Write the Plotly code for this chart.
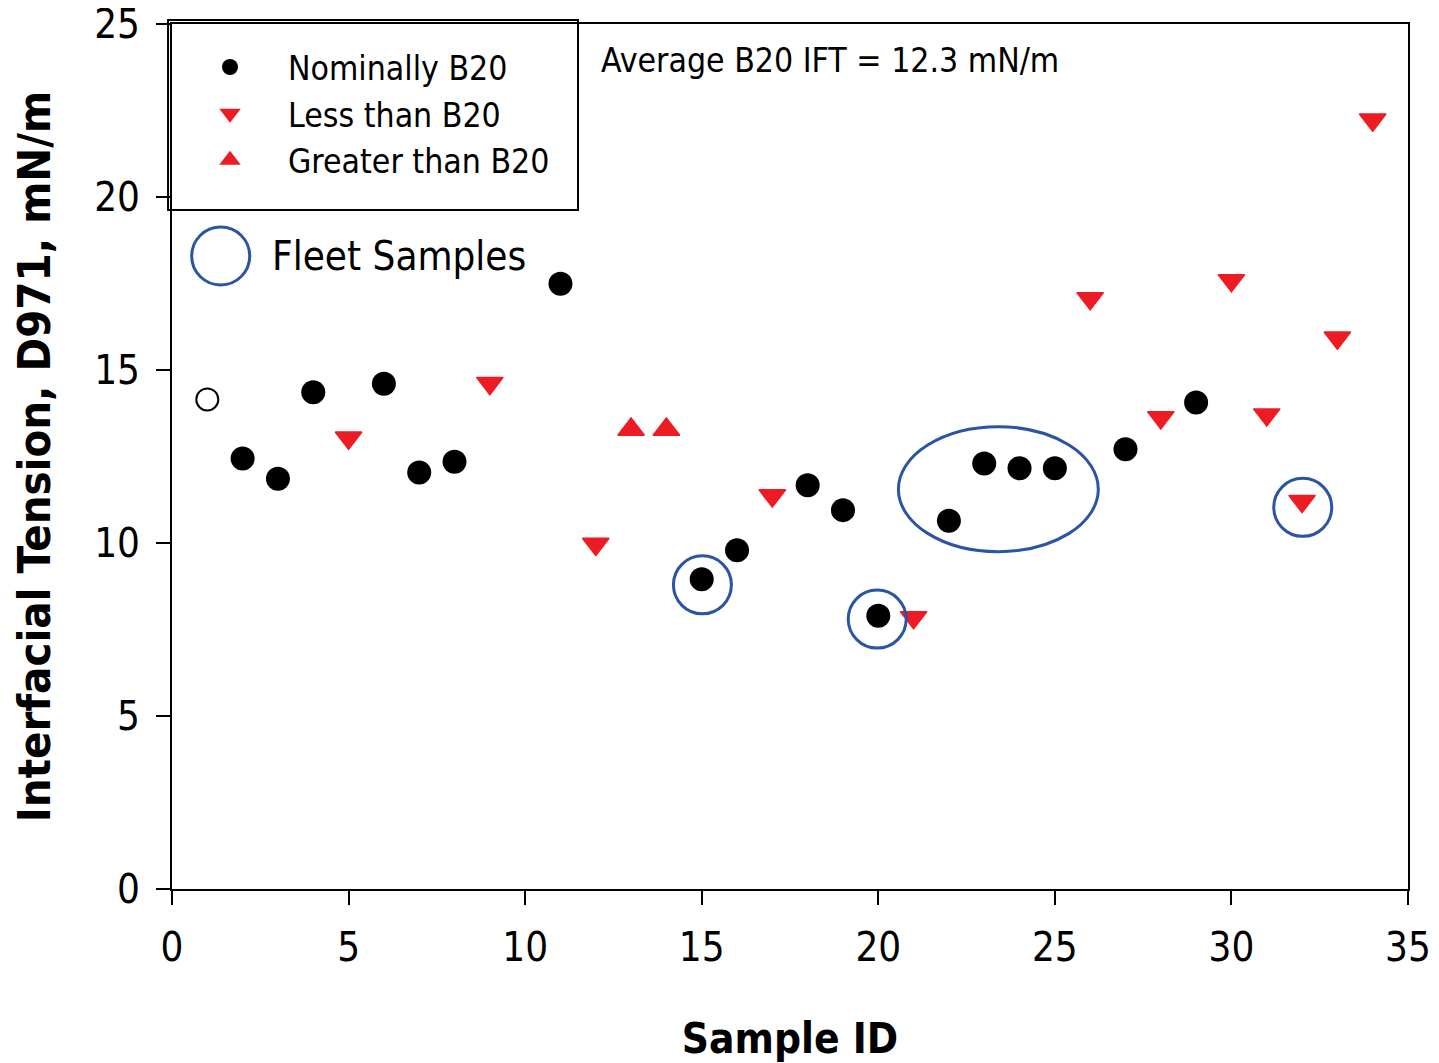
import plotly.graph_objects as go

# ---- data ----
nominal_x = [2, 3, 4, 6, 7, 8, 11, 15, 16, 18, 19, 20, 22, 23, 24, 25, 27, 29]
nominal_y = [12.44, 11.86, 14.36, 14.60, 12.04, 12.35, 17.49, 8.95, 9.79, 11.67,
             10.95, 7.90, 10.64, 12.30, 12.16, 12.16, 12.71, 14.06]

less_x = [5, 9, 12, 17, 21, 26, 28, 30, 31, 32, 33, 34]
less_y = [13.04, 14.62, 9.97, 11.37, 7.85, 17.07, 13.63, 17.59, 13.71, 11.21, 15.93, 22.23]

greater_x = [13, 14]
greater_y = [13.28, 13.28]

other_x = [1]
other_y = [14.15]

fleet_x = [15.02, 19.97, 32.02]
fleet_y = [8.79, 7.80, 11.03]

fleet_group_x = [20.57, 26.23]   # ellipse extent around samples 22-25
fleet_group_y = [9.75, 13.36]

x_ticks = [0, 5, 10, 15, 20, 25, 30, 35]
y_ticks = [0, 5, 10, 15, 20, 25]

FONT = "DejaVu Sans Condensed, Liberation Sans Narrow, Lato, sans-serif"
RED = "#ED1C24"
BLUE = "#2B54A3"

fig = go.Figure()

fig.add_trace(go.Scatter(x=nominal_x, y=nominal_y, mode="markers", name="Nominally B20",
                         marker=dict(symbol="circle", size=24, color="black")))
fig.add_trace(go.Scatter(x=less_x, y=less_y, mode="markers", name="Less than B20",
                         marker=dict(symbol="triangle-down", size=23, color=RED,
                                     line=dict(color=RED, width=1.5))))
fig.add_trace(go.Scatter(x=greater_x, y=greater_y, mode="markers", name="Greater than B20",
                         marker=dict(symbol="triangle-up", size=23, color=RED,
                                     line=dict(color=RED, width=1.5))))
fig.add_trace(go.Scatter(x=other_x, y=other_y, mode="markers", showlegend=False,
                         marker=dict(symbol="circle-open", size=22, color="black",
                                     line=dict(color="black", width=2))))
fig.add_trace(go.Scatter(x=fleet_x, y=fleet_y, mode="markers", showlegend=False,
                         marker=dict(symbol="circle-open", size=58, color=BLUE,
                                     line=dict(color=BLUE, width=3))))

shapes = [
    dict(type="circle", xref="x", yref="y",
         x0=fleet_group_x[0], x1=fleet_group_x[1], y0=fleet_group_y[0], y1=fleet_group_y[1],
         line=dict(color=BLUE, width=3)),
    # legend box
    dict(type="rect", xref="paper", yref="paper", x0=-0.0032, x1=0.3285, y0=0.785, y1=1.0046,
         line=dict(color="black", width=2), fillcolor="white", layer="below"),
    # fleet samples key circle
    dict(type="circle", xref="paper", yref="paper", x0=0.0159, x1=0.0629, y0=0.6983, y1=0.7653,
         line=dict(color=BLUE, width=3)),
]

# page body adds an 8px offset, so the figure is 8px smaller on each leading side
fig.update_layout(
    width=1431, height=1055,
    margin=dict(l=164, r=31, t=16, b=174, autoexpand=False),
    paper_bgcolor="white", plot_bgcolor="white",
    font=dict(family=FONT, size=34, color="black"),
    shapes=shapes,
    showlegend=True,
    legend=dict(x=0.0, y=0.983, xanchor="left", yanchor="top",
                bgcolor="rgba(0,0,0,0)", borderwidth=0,
                font=dict(family=FONT, size=33.5, color="black"),
                itemwidth=106, tracegroupgap=0),
    annotations=[
        dict(text="Fleet Samples", xref="paper", yref="paper", x=0.0793, y=0.7318,
             xanchor="left", yanchor="middle", showarrow=False,
             font=dict(family=FONT, size=40, color="black")),
        dict(text="Average B20 IFT = 12.3 mN/m", xref="paper", yref="paper", x=0.3455, y=0.958,
             xanchor="left", yanchor="middle", showarrow=False,
             font=dict(family=FONT, size=33.5, color="black")),
    ],
)

fig.update_xaxes(range=[0, 35], tickvals=x_ticks, ticks="outside", ticklen=14, tickwidth=2,
                 tickcolor="black", showline=True, linecolor="black", linewidth=2, mirror=True,
                 showgrid=False, zeroline=False, ticklabelstandoff=8, ticklabeloverflow="allow",
                 title=dict(text="<b>Sample ID</b>", font=dict(family=FONT, size=42), standoff=55),
                 tickfont=dict(size=40))
fig.update_yaxes(range=[0, 25], tickvals=y_ticks, ticks="outside", ticklen=14, tickwidth=2,
                 tickcolor="black", showline=True, linecolor="black", linewidth=2, mirror=True,
                 showgrid=False, zeroline=False, ticklabelstandoff=8, ticklabeloverflow="allow",
                 title=dict(text="<b>Interfacial Tension, D971, mN/m</b>",
                            font=dict(family=FONT, size=45), standoff=32),
                 tickfont=dict(size=40))

fig.write_html("out.html")
